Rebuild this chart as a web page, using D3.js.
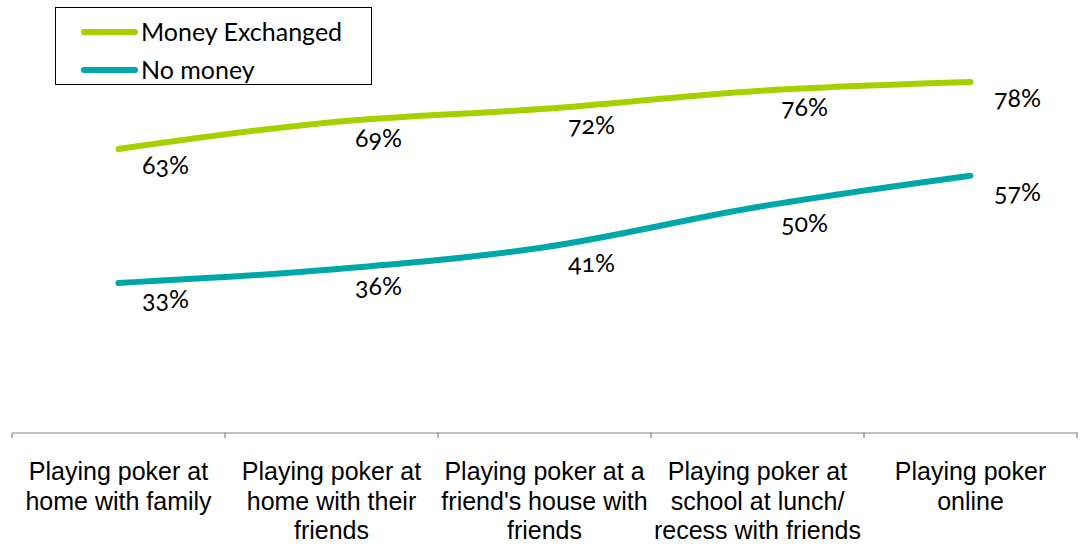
<!DOCTYPE html>
<html>
<head>
<meta charset="utf-8">
<script src="https://cdn.jsdelivr.net/npm/d3@7"></script>
<style>
  body { margin: 0; background: #fff; }
  svg { display: block; }
  .lbl { font-family: Lato, "Open Sans", sans-serif; font-variant-numeric: oldstyle-nums; font-feature-settings: "onum" 1; }
</style>
</head>
<body>
<div id="chart"></div>
<script>
// categories
const categories = [
    "Playing poker at home with family",
    "Playing poker at home with their friends",
    "Playing poker at a friend's house with friends",
    "Playing poker at school at lunch/ recess with friends",
    "Playing poker online"
];
// category label lines (as wrapped in the picture)
const categoryLines = [
    ["Playing poker at", "home with family"],
    ["Playing poker at", "home with their", "friends"],
    ["Playing poker at a", "friend's house with", "friends"],
    ["Playing poker at", "school at lunch/", "recess with friends"],
    ["Playing poker", "online"]
];
// series values (%)
const seriesNames = ["Money Exchanged", "No money"];
const moneyExchanged = [63, 69, 72, 76, 78];
const noMoney = [33, 36, 41, 50, 57];

const W = 1081, H = 546;
const colors = { "Money Exchanged": "#a6d100", "No money": "#00a7a8" };

const svg = d3.select("#chart").append("svg")
    .attr("width", W)
    .attr("height", H);

// Escales
const x = d3.scaleBand()
    .domain(categories)
    .range([12, 1077]);

const y = d3.scaleLinear()
    .domain([0, 90])
    .range([430.4, 28.4]);

// Eix X
const axisG = svg.append("g")
    .attr("transform", "translate(0,432.5)")
    .call(d3.axisBottom(x).tickSize(0).tickFormat(""));
axisG.select(".domain").attr("stroke", "#868686").attr("stroke-width", 1.2);

// tick marks at band edges
const edges = categories.map(c => x(c)).concat([x.range()[1]]);
svg.append("g").selectAll("line")
    .data(edges)
    .enter()
    .append("line")
        .attr("x1", d => d).attr("x2", d => d)
        .attr("y1", 432.5).attr("y2", 438)
        .attr("stroke", "#868686")
        .attr("stroke-width", 1.2);

// Category labels
const catText = svg.append("g").selectAll("text")
    .data(categories)
    .enter()
    .append("text")
        .attr("x", d => x(d) + x.bandwidth() / 2)
        .attr("y", 480)
        .attr("text-anchor", "middle")
        .style("font-family", "'Liberation Sans', Arial, sans-serif")
        .style("font-size", "25px")
        .style("fill", "#000");

catText.each(function(d, i) {
    const t = d3.select(this);
    categoryLines[i].forEach((ln, j) => {
        t.append("tspan")
            .attr("x", x(d) + x.bandwidth() / 2)
            .attr("dy", j === 0 ? 0 : 29.5)
            .text(ln);
    });
});

// Linies
const series = [
    { name: seriesNames[0], values: moneyExchanged },
    { name: seriesNames[1], values: noMoney }
];

const line = d3.line()
    .x((d, i) => x(categories[i]) + x.bandwidth() / 2)
    .y(d => y(d))
    .curve(d3.curveCardinal.tension(0));

svg.selectAll(".serie")
    .data(series)
    .enter()
    .append("path")
        .attr("class", "serie")
        .attr("d", d => line(d.values))
        .attr("fill", "none")
        .attr("stroke", d => colors[d.name])
        .attr("stroke-width", 6)
        .attr("stroke-linecap", "round");

// Data labels
series.forEach(s => {
    svg.append("g").selectAll("text")
        .data(s.values)
        .enter()
        .append("text")
            .attr("class", "lbl")
            .attr("x", (d, i) => x(categories[i]) + x.bandwidth() / 2 + 47)
            .attr("y", d => y(d) + 25)
            .attr("text-anchor", "middle")
            .style("font-size", "25px")
            .style("fill", "#000")
            .text(d => d + "%");
});

// Llegenda
const leg = svg.append("g");
leg.append("rect")
    .attr("x", 55.5).attr("y", 7.5)
    .attr("width", 316).attr("height", 77)
    .attr("fill", "#fff")
    .attr("stroke", "#000")
    .attr("stroke-width", 1);

series.forEach((s, i) => {
    const ly = 32 + i * 38;
    leg.append("line")
        .attr("x1", 84).attr("x2", 135)
        .attr("y1", ly).attr("y2", ly)
        .attr("stroke", colors[s.name])
        .attr("stroke-width", 6)
        .attr("stroke-linecap", "round");
    leg.append("text")
        .attr("class", "lbl")
        .attr("x", 141)
        .attr("y", ly + 8.5)
        .style("font-size", "25px")
        .style("fill", "#000")
        .text(s.name);
});
</script>
</body>
</html>
